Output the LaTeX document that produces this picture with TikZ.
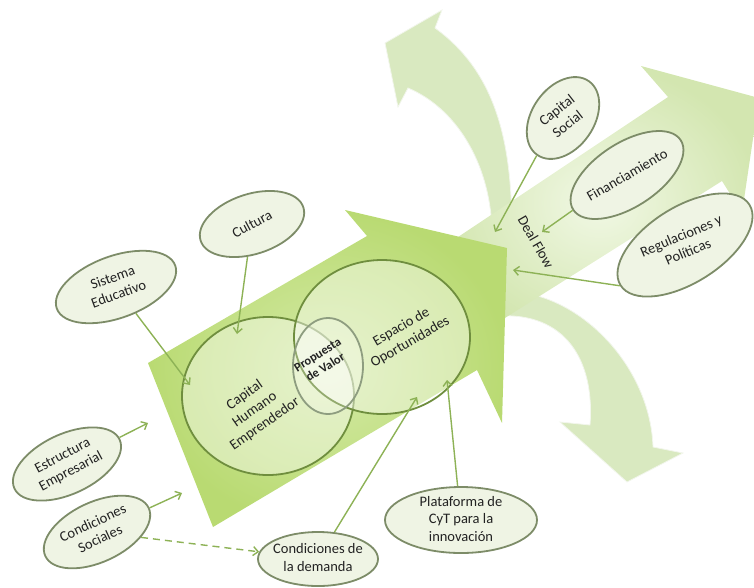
\documentclass[tikz,border=0pt]{standalone}
\usepackage{fontspec}
\setmainfont{Carlito}
\usetikzlibrary{arrows.meta,shapes.geometric}
\definecolor{bubdraw}{HTML}{7D8C68}
\definecolor{bubfill}{HTML}{EFF4E4}
\definecolor{txtcol}{HTML}{222222}
\definecolor{conncol}{HTML}{8DB256}
\definecolor{curvfill}{HTML}{D9E9C0}
\definecolor{curvedge}{HTML}{F2F6EC}
\definecolor{inedge}{HTML}{6F8E3E}
\definecolor{propedge}{HTML}{8E9D80}
\definecolor{mainin}{HTML}{D4EAA6}
\definecolor{mainout}{HTML}{B9DA72}
\definecolor{dealin}{HTML}{F1F8E5}
\definecolor{dealout}{HTML}{D3E6B0}
\begin{document}
\begin{tikzpicture}[x=1pt,y=-1pt,
  bubble/.style={ellipse, draw=bubdraw, line width=1.8pt, fill=bubfill, inner sep=0pt},
  txt/.style={font=\fontsize{14.5}{17.5}\selectfont, text=txtcol, inner sep=0pt},
  conn/.style={draw=conncol, line width=1.4pt, -{Straight Barb[length=5pt,width=9pt]}},
  curv/.style={fill=curvfill, draw=curvedge, line width=0.8pt},
  inell/.style={ellipse, draw=inedge, line width=1.8pt, fill=white, fill opacity=0.42, inner sep=0pt},
  propell/.style={ellipse, draw=propedge, line width=1.8pt, fill=white, fill opacity=0.25, inner sep=0pt}
]
\useasboundingbox (0,0) rectangle (754,587);

% curved arrows (back)
\path[curv] (512,235) .. controls (512,150) and (500,75) .. (435,28) -- (442,10) -- (385,43) -- (398,107) -- (408,88) .. controls (460,110) and (492,170) .. (492,235) -- cycle;
\path[curv] (498,292) .. controls (570,285) and (650,360) .. (653,447) -- (683,453) -- (627,482) -- (560,422) -- (590,425) .. controls (595,360) and (565,312) .. (498,316) -- cycle;

% deal flow arrow
\shade[inner color=dealin, outer color=dealout] (440,249) -- (668,97) -- (641,66) -- (759,98) -- (742,213) -- (722,181) -- (470,340) -- cycle;

% main arrow
\shade[inner color=mainin, outer color=mainout] (148,363) -- (367,236) -- (345,210) -- (507,248) -- (502,423) -- (477,370) -- (213,527) -- cycle;

% inner ellipses
\node[inell, minimum width=172pt, minimum height=158pt] (chE) at (268,396) {};
\node[inell, minimum width=176pt, minimum height=154pt] (eoE) at (382,337) {};
\node[propell, minimum width=70pt, minimum height=96pt] (pvE) at (328,366) {};

\node[txt, rotate=35] (chT) at (255,410) {\begin{tabular}{@{}c@{}}Capital\\Humano\\Emprendedor\end{tabular}};
\node[txt, rotate=32, font=\bfseries\fontsize{12.5}{14.5}\selectfont] (pvT) at (322,362) {\begin{tabular}{@{}c@{}}Propuesta\\de Valor\end{tabular}};
\node[txt, rotate=30] (eoT) at (406,335) {\begin{tabular}{@{}c@{}}Espacio de\\Oportunidades\end{tabular}};
\node[txt, rotate=-60] (dfT) at (536,242) {Deal Flow};

% bubbles
\node[bubble, minimum width=126pt, minimum height=62pt, rotate=20] (sistE) at (116,287) {};
\node[txt, rotate=20] (sistT) at (sistE) {\begin{tabular}{@{}c@{}}Sistema\\Educativo\end{tabular}};
\node[bubble, minimum width=108pt, minimum height=60pt, rotate=18] (cultE) at (252,224) {};
\node[txt, rotate=28] (cultT) at (cultE) {Cultura};
\node[bubble, minimum width=116pt, minimum height=60pt, rotate=25] (estrE) at (67,464) {};
\node[txt, rotate=28] (estrT) at (estrE) {\begin{tabular}{@{}c@{}}Estructura\\Empresarial\end{tabular}};
\node[bubble, minimum width=114pt, minimum height=60pt, rotate=25] (csocE) at (97,532) {};
\node[txt, rotate=25] (csocT) at (csocE) {\begin{tabular}{@{}c@{}}Condiciones\\Sociales\end{tabular}};
\node[bubble, minimum width=120pt, minimum height=54pt] (cdemE) at (318,559) {};
\node[txt] (cdemT) at (cdemE) {\begin{tabular}{@{}c@{}}Condiciones de\\la demanda\end{tabular}};
\node[bubble, minimum width=152pt, minimum height=66pt] (platE) at (461,520) {};
\node[txt] (platT) at (platE) {\begin{tabular}{@{}c@{}}Plataforma de\\CyT para la\\innovación\end{tabular}};
\node[bubble, minimum width=90pt, minimum height=62pt, rotate=55] (capsE) at (563,118) {};
\node[txt, rotate=38] (capsT) at (capsE) {\begin{tabular}{@{}c@{}}Capital\\Social\end{tabular}};
\node[bubble, minimum width=128pt, minimum height=64pt, rotate=33] (finE) at (627,175) {};
\node[txt, rotate=30] (finT) at (finE) {Financiamiento};
\node[bubble, minimum width=152pt, minimum height=76pt, rotate=32] (regE) at (685,245) {};
\node[txt, rotate=23] (regT) at (regE) {\begin{tabular}{@{}c@{}}Regulaciones y\\Políticas\end{tabular}};

% connector targets
\coordinate (pSist) at (190,385);
\coordinate (pCult) at (237,334);
\coordinate (pEstr) at (148,423);
\coordinate (pCsoc) at (182,493);
\coordinate (pCdem) at (417,397);
\coordinate (pPlat) at (447,380);
\coordinate (pCaps) at (495,232);
\coordinate (pFin) at (542,232);
\coordinate (pReg) at (513,270);

\draw[conn] (sistE) -- (pSist);
\draw[conn] (cultE) -- (pCult);
\draw[conn] (estrE) -- (pEstr);
\draw[conn] (csocE) -- (pCsoc);
\draw[conn, dash pattern=on 7pt off 5pt] (csocE) -- (cdemE);
\draw[conn] (cdemE) -- (pCdem);
\draw[conn] (platE) -- (pPlat);
\draw[conn] (capsE.west) -- (pCaps);
\draw[conn] (finE.west) -- (pFin);
\draw[conn] (regE.west) -- (pReg);
\end{tikzpicture}
\end{document}
